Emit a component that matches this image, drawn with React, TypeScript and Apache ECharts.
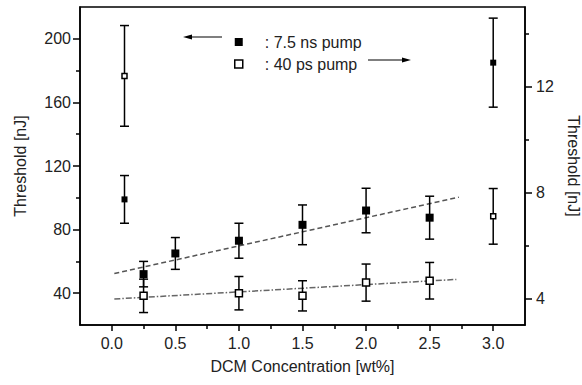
import React, { useEffect, useRef } from 'react';
import * as echarts from 'echarts';

// 7.5 ns pump (left axis, nJ)
const nsConc = [0.1, 0.25, 0.5, 1.0, 1.5, 2.0, 2.5, 3.0];
const nsThreshold = [99, 52, 65, 73, 83, 92, 87.5, 185];
const nsError = [15, 8, 10, 11, 12.5, 14, 13.5, 28];

// 40 ps pump (right axis, nJ)
const psConc = [0.1, 0.25, 1.0, 1.5, 2.0, 2.5, 3.0];
const psThreshold = [12.4, 4.1, 4.2, 4.1, 4.6, 4.67, 7.1];
const psError = [1.9, 0.63, 0.63, 0.57, 0.7, 0.69, 1.05];

// linear fits (end points)
const nsFitX = [0.02, 2.73];
const nsFitY = [52.4, 100.4];
const psFitX = [0.02, 2.71];
const psFitY = [3.98, 4.72];

const xMajorTicks = [0, 0.5, 1, 1.5, 2, 2.5, 3];
const xMinorTicks = [0.25, 0.75, 1.25, 1.75, 2.25, 2.75];
const leftMajorTicks = [40, 80, 120, 160, 200];
const leftMinorTicks = [60, 100, 140, 180];
const rightMajorTicks = [4, 8, 12];
const rightMinorTicks = [6, 10, 14];

const FONT = 'Liberation Sans, Arial, sans-serif';
const TEXT = '#222';

const errorRender = (params: any, api: any) => {
  const x = api.value(0);
  const y = api.value(1);
  const e = api.value(2);
  const hi = api.coord([x, y + e]);
  const lo = api.coord([x, y - e]);
  const hw = 4.5;
  const style = { stroke: '#000', lineWidth: 1.5 };
  return {
    type: 'group',
    children: [
      { type: 'line', shape: { x1: hi[0], y1: hi[1], x2: lo[0], y2: lo[1] }, style },
      { type: 'line', shape: { x1: hi[0] - hw, y1: hi[1], x2: hi[0] + hw, y2: hi[1] }, style },
      { type: 'line', shape: { x1: lo[0] - hw, y1: lo[1], x2: lo[0] + hw, y2: lo[1] }, style },
    ],
  };
};

const sizeFor = (v: number[]) => (v[0] === 0.1 || v[0] === 3 ? 6 : 8);

export default function App() {
  const ref = useRef<HTMLDivElement>(null);

  useEffect(() => {
    if (!ref.current) return;
    const chart = echarts.init(ref.current, null, { renderer: 'svg' });

    const labelStyle = { color: TEXT, fontFamily: FONT, fontSize: 16 };
    const line = { show: true, onZero: false, lineStyle: { color: '#000', width: 1.5 } };
    const noLine = { show: false, onZero: false };
    const tickStyle = { color: '#000', width: 1.5 };

    const option: any = {
      animation: false,
      backgroundColor: '#fff',
      grid: {
        left: 80,
        right: 57,
        top: 7,
        bottom: 60,
        containLabel: false,
        outerBoundsMode: 'none',
        show: true,
        borderColor: '#000',
        borderWidth: 1.5,
        backgroundColor: 'transparent',
      },
      legend: {
        show: true,
        selectedMode: false,
        orient: 'vertical',
        left: 229,
        top: 29,
        itemWidth: 8,
        itemHeight: 8,
        itemGap: 6,
        formatter: (name: string) => ': ' + name,
        textStyle: { ...labelStyle, lineHeight: 16, padding: [0, 0, 0, 17] },
        data: [
          { name: '7.5 ns pump', icon: 'rect', itemStyle: { color: '#000', borderWidth: 0 } },
          {
            name: '40 ps pump',
            icon: 'rect',
            itemStyle: { color: '#fff', borderColor: '#000', borderWidth: 1.5 },
          },
        ],
      },
      xAxis: [
        {
          type: 'value',
          position: 'bottom',
          min: -0.25,
          max: 3.25,
          name: 'DCM Concentration [wt%]',
          nameLocation: 'middle',
          nameGap: 33,
          nameTextStyle: labelStyle,
          axisLine: line,
          axisTick: { show: true, customValues: xMajorTicks, length: 6, lineStyle: tickStyle },
          axisLabel: {
            ...labelStyle,
            customValues: xMajorTicks,
            margin: 10,
            formatter: (v: number) => v.toFixed(1),
          },
          splitLine: { show: false },
        },
        {
          type: 'value',
          position: 'bottom',
          min: -0.25,
          max: 3.25,
          axisLine: noLine,
          axisTick: { show: true, customValues: xMinorTicks, length: 4, lineStyle: tickStyle },
          axisLabel: { show: false },
          splitLine: { show: false },
        },
      ],
      yAxis: [
        {
          type: 'value',
          position: 'left',
          min: 20,
          max: 220,
          name: 'Threshold [nJ]',
          nameLocation: 'middle',
          nameGap: 52,
          nameTextStyle: labelStyle,
          axisLine: line,
          axisTick: { show: true, customValues: leftMajorTicks, length: 7, lineStyle: tickStyle },
          axisLabel: { ...labelStyle, customValues: leftMajorTicks, margin: 9 },
          splitLine: { show: false },
        },
        {
          type: 'value',
          position: 'right',
          min: 3,
          max: 15,
          name: 'Threshold [nJ]',
          nameLocation: 'middle',
          nameRotate: -90,
          nameGap: 40,
          nameTextStyle: labelStyle,
          axisLine: line,
          axisTick: { show: true, customValues: rightMajorTicks, length: 7, lineStyle: tickStyle },
          axisLabel: { ...labelStyle, customValues: rightMajorTicks, margin: 11 },
          splitLine: { show: false },
        },
        {
          type: 'value',
          position: 'left',
          min: 20,
          max: 220,
          axisLine: noLine,
          axisTick: { show: true, customValues: leftMinorTicks, length: 4, lineStyle: tickStyle },
          axisLabel: { show: false },
          splitLine: { show: false },
        },
        {
          type: 'value',
          position: 'right',
          min: 3,
          max: 15,
          axisLine: noLine,
          axisTick: { show: true, customValues: rightMinorTicks, length: 4, lineStyle: tickStyle },
          axisLabel: { show: false },
          splitLine: { show: false },
        },
      ],
      series: [
        {
          name: 'ns fit',
          type: 'line',
          xAxisIndex: 0,
          yAxisIndex: 0,
          showSymbol: false,
          silent: true,
          data: nsFitX.map((x, i) => [x, nsFitY[i]]),
          lineStyle: { color: '#555', width: 1.5, type: [5, 3] },
          z: 1,
        },
        {
          name: 'ps fit',
          type: 'line',
          xAxisIndex: 0,
          yAxisIndex: 1,
          showSymbol: false,
          silent: true,
          data: psFitX.map((x, i) => [x, psFitY[i]]),
          lineStyle: { color: '#666', width: 1.5, type: [6, 2, 1.5, 2] },
          z: 1,
        },
        {
          name: 'ns error',
          type: 'custom',
          xAxisIndex: 0,
          yAxisIndex: 0,
          renderItem: errorRender,
          encode: { x: 0, y: 1 },
          data: nsConc.map((x, i) => [x, nsThreshold[i], nsError[i]]),
          z: 2,
        },
        {
          name: 'ps error',
          type: 'custom',
          xAxisIndex: 0,
          yAxisIndex: 1,
          renderItem: errorRender,
          encode: { x: 0, y: 1 },
          data: psConc.map((x, i) => [x, psThreshold[i], psError[i]]),
          z: 2,
        },
        {
          name: '7.5 ns pump',
          type: 'scatter',
          xAxisIndex: 0,
          yAxisIndex: 0,
          symbol: 'rect',
          symbolSize: sizeFor,
          itemStyle: { color: '#000', opacity: 1 },
          data: nsConc.map((x, i) => [x, nsThreshold[i]]),
          z: 3,
        },
        {
          name: '40 ps pump',
          type: 'scatter',
          xAxisIndex: 0,
          yAxisIndex: 1,
          symbol: 'rect',
          symbolSize: (v: number[]) => sizeFor(v) - 1,
          itemStyle: { color: '#fff', borderColor: '#000', borderWidth: 1.5, opacity: 1 },
          data: psConc.map((x, i) => [x, psThreshold[i]]),
          z: 3,
        },
      ],
      graphic: [
        {
          type: 'line',
          shape: { x1: 222, y1: 37, x2: 189, y2: 37 },
          style: { stroke: '#000', lineWidth: 1.2 },
        },
        {
          type: 'polygon',
          shape: { points: [[183, 37], [192, 34.5], [192, 39.5]] },
          style: { fill: '#000' },
        },
        {
          type: 'line',
          shape: { x1: 368, y1: 60, x2: 405, y2: 60 },
          style: { stroke: '#000', lineWidth: 1.2 },
        },
        {
          type: 'polygon',
          shape: { points: [[411, 60], [402, 57.5], [402, 62.5]] },
          style: { fill: '#000' },
        },
      ],
    };

    chart.setOption(option);
    return () => chart.dispose();
  }, []);

  return (
    <div
      ref={ref}
      style={{ position: 'fixed', left: 0, top: 0, width: 582, height: 385, background: '#fff' }}
    />
  );
}
